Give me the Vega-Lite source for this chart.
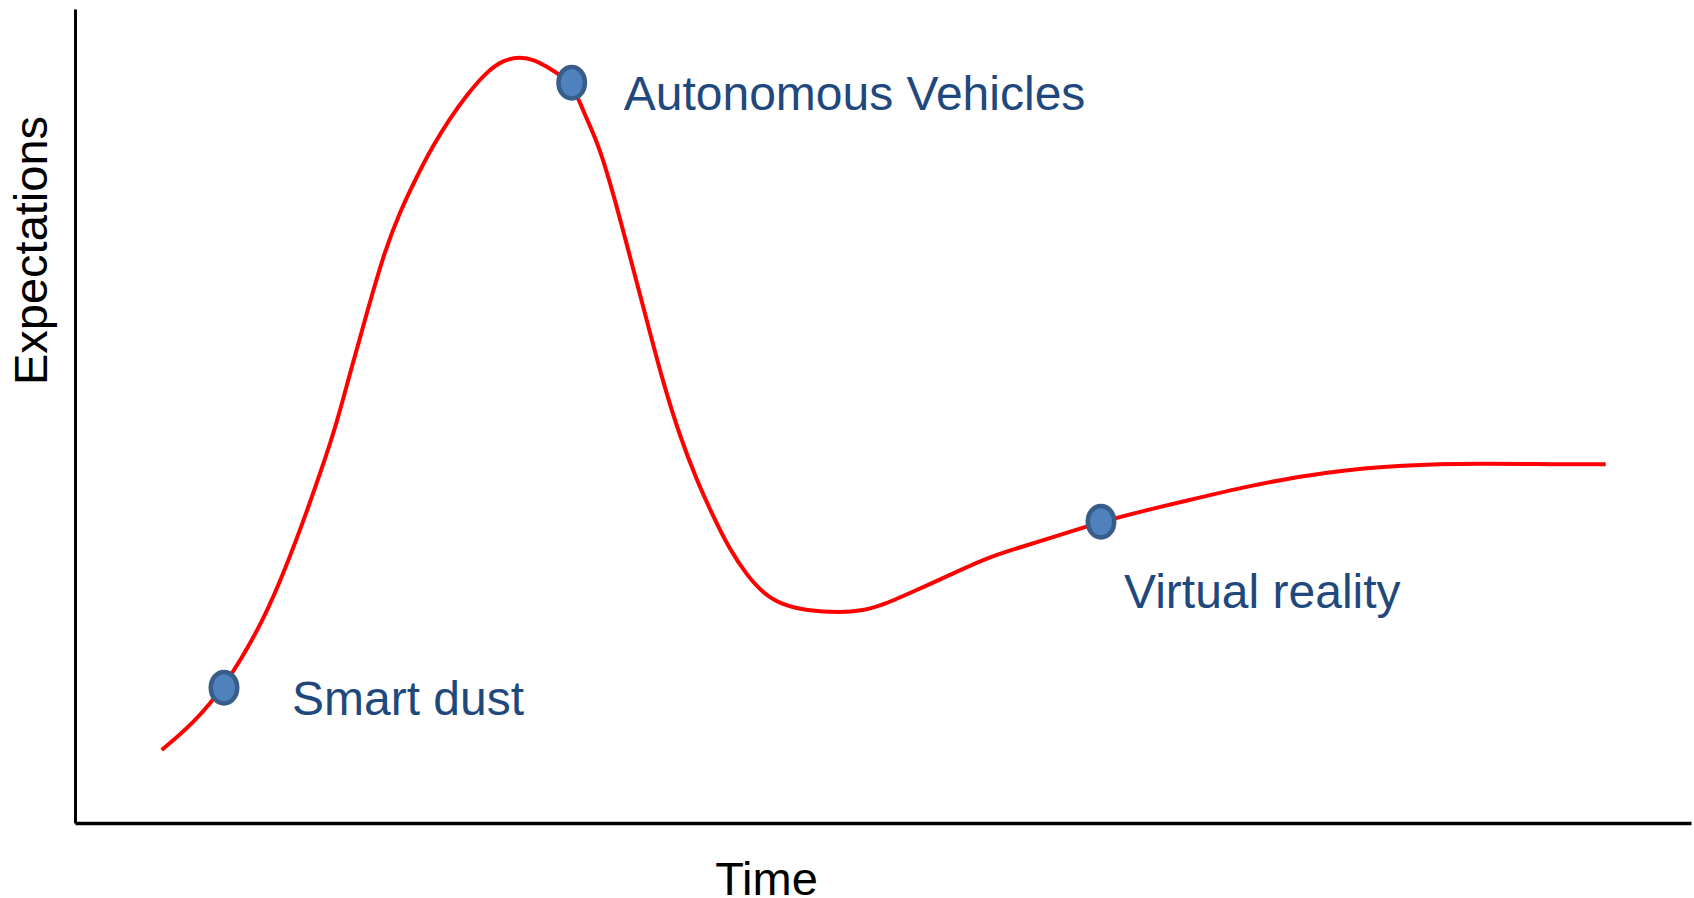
{
  "$schema": "https://vega.github.io/schema/vega-lite/v6.json",
  "width": 1616,
  "height": 814,
  "autosize": {"type": "none"},
  "padding": {"left": 75, "top": 9, "right": 3, "bottom": 75},
  "background": "white",
  "config": {"view": {"stroke": null}, "font": "Liberation Sans"},
  "datasets": {
    "curve": [
      {"time": 86.7, "expectation": 73},
      {"time": 118.3, "expectation": 99.7},
      {"time": 149, "expectation": 135.3},
      {"time": 184, "expectation": 194},
      {"time": 204.5, "expectation": 239.7},
      {"time": 226.5, "expectation": 296.3},
      {"time": 247.5, "expectation": 356.3},
      {"time": 261.7, "expectation": 399.7},
      {"time": 275, "expectation": 449.7},
      {"time": 291.7, "expectation": 509.7},
      {"time": 310, "expectation": 573},
      {"time": 325, "expectation": 611.3},
      {"time": 341.7, "expectation": 646.3},
      {"time": 358.3, "expectation": 678},
      {"time": 375, "expectation": 704.7},
      {"time": 391.7, "expectation": 728},
      {"time": 411.7, "expectation": 751.3},
      {"time": 428.3, "expectation": 763},
      {"time": 445, "expectation": 766.3},
      {"time": 458.3, "expectation": 763.7},
      {"time": 475, "expectation": 754.7},
      {"time": 496.7, "expectation": 740.3},
      {"time": 505, "expectation": 719.7},
      {"time": 518.3, "expectation": 689.7},
      {"time": 525, "expectation": 673},
      {"time": 538.3, "expectation": 629.7},
      {"time": 555, "expectation": 566.3},
      {"time": 571.7, "expectation": 503},
      {"time": 588.3, "expectation": 439.7},
      {"time": 605, "expectation": 386.3},
      {"time": 621.7, "expectation": 343},
      {"time": 638.3, "expectation": 306.3},
      {"time": 655, "expectation": 273},
      {"time": 671.7, "expectation": 248},
      {"time": 688.3, "expectation": 229.7},
      {"time": 705, "expectation": 219},
      {"time": 731.7, "expectation": 212.3},
      {"time": 765, "expectation": 210.3},
      {"time": 788.3, "expectation": 212.3},
      {"time": 808.3, "expectation": 218},
      {"time": 841.7, "expectation": 233},
      {"time": 875, "expectation": 248},
      {"time": 908.3, "expectation": 263.7},
      {"time": 941.7, "expectation": 274.7},
      {"time": 975, "expectation": 284.7},
      {"time": 1026, "expectation": 301.3},
      {"time": 1075, "expectation": 313.7},
      {"time": 1100.8, "expectation": 319.7},
      {"time": 1176.5, "expectation": 338},
      {"time": 1252.3, "expectation": 351.3},
      {"time": 1328, "expectation": 358},
      {"time": 1403.8, "expectation": 359.7},
      {"time": 1479.5, "expectation": 358.7},
      {"time": 1530.7, "expectation": 358.7}
    ],
    "tech": [
      {"label": "Smart dust", "time": 149, "expectation": 135.3},
      {"label": "Autonomous Vehicles", "time": 496.7, "expectation": 740.3},
      {"label": "Virtual reality", "time": 1026, "expectation": 301.3}
    ]
  },
  "encoding": {
    "x": {
      "field": "time",
      "type": "quantitative",
      "scale": {"domain": [0, 1616], "nice": false, "zero": false},
      "axis": {
        "title": "Time",
        "domain": true,
        "domainColor": "black",
        "domainWidth": 3.5,
        "ticks": false,
        "labels": false,
        "grid": false,
        "titleFont": "Liberation Sans",
        "titleFontSize": 47,
        "titleFontWeight": "normal",
        "titleColor": "black",
        "titleX": 691,
        "titleY": 71,
        "titleBaseline": "alphabetic",
        "titleAlign": "center"
      }
    },
    "y": {
      "field": "expectation",
      "type": "quantitative",
      "scale": {"domain": [0, 814], "nice": false, "zero": false},
      "axis": {
        "title": "Expectations",
        "domain": true,
        "domainColor": "black",
        "domainWidth": 3,
        "ticks": false,
        "labels": false,
        "grid": false,
        "titleFont": "Liberation Sans",
        "titleFontSize": 47,
        "titleFontWeight": "normal",
        "titleColor": "black",
        "titleAngle": -90,
        "titleX": -29,
        "titleY": 241,
        "titleBaseline": "alphabetic",
        "titleAlign": "center"
      }
    }
  },
  "layer": [
    {
      "data": {"name": "curve"},
      "mark": {"type": "line", "color": "#FF0000", "strokeWidth": 4, "interpolate": "basis"}
    },
    {
      "data": {"name": "tech"},
      "mark": {
        "type": "point",
        "shape": "M0,-1A0.84,1,0,1,1,0,1A0.84,1,0,1,1,0,-1Z",
        "size": 992,
        "filled": true,
        "fill": "#4F81BD",
        "stroke": "#385D8A",
        "strokeWidth": 4.5,
        "opacity": 1
      }
    },
    {
      "data": {"name": "tech"},
      "transform": [{"filter": "datum.label === 'Smart dust'"}],
      "mark": {"type": "text", "align": "left", "baseline": "alphabetic", "fontSize": 48, "color": "#1F497D", "dx": 68, "dy": 27},
      "encoding": {"text": {"field": "label"}}
    },
    {
      "data": {"name": "tech"},
      "transform": [{"filter": "datum.label === 'Autonomous Vehicles'"}],
      "mark": {"type": "text", "align": "left", "baseline": "alphabetic", "fontSize": 48, "color": "#1F497D", "dx": 52, "dy": 27},
      "encoding": {"text": {"field": "label"}}
    },
    {
      "data": {"name": "tech"},
      "transform": [{"filter": "datum.label === 'Virtual reality'"}],
      "mark": {"type": "text", "align": "left", "baseline": "alphabetic", "fontSize": 48, "color": "#1F497D", "dx": 23, "dy": 86},
      "encoding": {"text": {"field": "label"}}
    }
  ]
}
